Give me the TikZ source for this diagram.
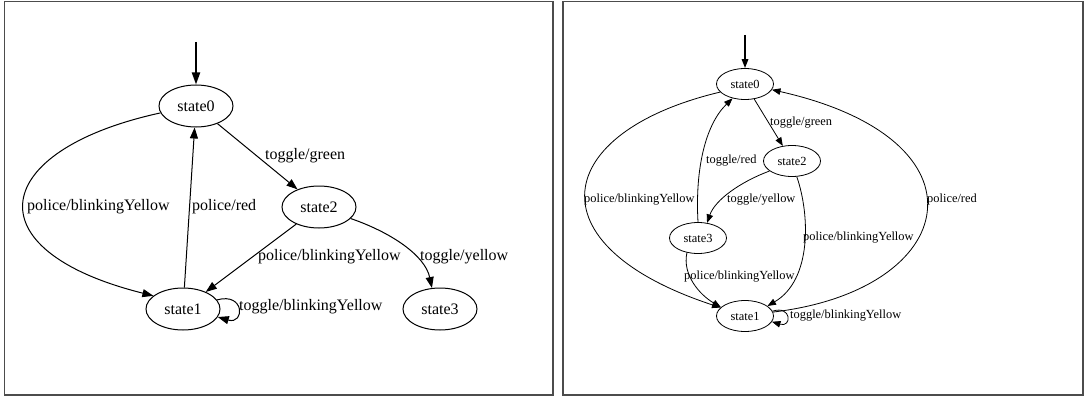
\documentclass[tikz,border=0pt]{standalone}
\usepackage{fontspec}
\setmainfont{Liberation Serif}
\usetikzlibrary{shapes.geometric,arrows.meta}

\tikzset{
  frame/.style={draw=black!70, line width=1.5pt},
  bigstate/.style={ellipse, draw, line width=1pt, inner sep=0pt,
    minimum width=74pt, minimum height=42pt,
    font=\fontsize{16}{18}\selectfont},
  smallstate/.style={ellipse, draw, line width=0.8pt, inner sep=0pt,
    minimum width=57pt, minimum height=31pt,
    font=\fontsize{12.4}{14}\selectfont},
  bigedge/.style={line width=1pt, -{Triangle[length=11pt,width=8pt]}},
  smalledge/.style={line width=0.8pt, -{Triangle[length=8.5pt,width=6.5pt]}},
  bigstart/.style={line width=2pt, -{Triangle[length=12pt,width=8pt]}},
  smallstart/.style={line width=1.6pt, -{Triangle[length=9pt,width=6.5pt]}},
  biglabel/.style={anchor=west, inner sep=0pt, font=\fontsize{16}{18}\selectfont},
  smalllabel/.style={anchor=west, inner sep=0pt, font=\fontsize{12.4}{14}\selectfont},
}

\begin{document}
\begin{tikzpicture}[x=1pt, y=-1pt]
\useasboundingbox (0,0) rectangle (1084,396);
\fill[white] (0,0) rectangle (1084,396);

% two framed panels
\draw[frame] (4.5,1.5) rectangle (553,395);
\draw[frame] (563,1.5) rectangle (1083,395);

% ---------- first machine ----------
\node[bigstate] (l0) at (196,106) {state0};
\node[bigstate] (l2) at (319,207) {state2};
\node[bigstate] (l1) at (183,309) {state1};
\node[bigstate] (l3) at (440,309) {state3};
\coordinate (li) at (196,42);

\draw[bigstart] (li) -- (l0.north);
\draw[bigedge] (l0.191) .. controls (-10,150) and (-30,250) .. (l1.156);
\draw[bigedge] (l1) -- (l0);
\draw[bigedge] (l0) -- (l2);
\draw[bigedge] (l2) -- (l1);
\draw[bigedge] (l2.340) .. controls (390,232) and (425,255) .. (l3.111);
\draw[bigedge] (l1.15) .. controls (245,292) and (245,325) .. (l1.-13);

\node[biglabel] (lt1) at (265,156) {toggle/green};
\node[biglabel] (lt2) at (27,207) {police/blinkingYellow};
\node[biglabel] (lt3) at (192,207) {police/red};
\node[biglabel] (lt4) at (258,257) {police/blinkingYellow};
\node[biglabel] (lt5) at (420,257) {toggle/yellow};
\node[biglabel] (lt6) at (239,307) {toggle/blinkingYellow};

% ---------- second machine ----------
\node[smallstate] (r0) at (745,84) {state0};
\node[smallstate] (r2) at (792,161) {state2};
\node[smallstate] (r3) at (698,238) {state3};
\node[smallstate] (r1) at (745,316) {state1};
\coordinate (ri) at (745,35);

\draw[smallstart] (ri) -- (r0.north);
\draw[smalledge] (r0.198) .. controls (552,132) and (530,245) .. (r1.161);
\draw[smalledge] (r3.90) .. controls (695,170) and (705,125) .. (r0.229);
\draw[smalledge] (r0) -- (r2);
\draw[smalledge] (r2.204) .. controls (740,182) and (715,200) .. (r3.59);
\draw[smalledge] (r2.287) .. controls (810,215) and (812,280) .. (r1.24);
\draw[smalledge] (r3.233) .. controls (682,275) and (700,295) .. (r1.160);
\draw[smalledge] (r1.8) .. controls (960,290) and (995,140) .. (r0.348);
\draw[smalledge] (r1.10) .. controls (792,305) and (792,328) .. (r1.-12);

\node[smalllabel] (rt1) at (770,123) {toggle/green};
\node[smalllabel] (rt2) at (706,161) {toggle/red};
\node[smalllabel] (rt3) at (584,200) {police/blinkingYellow};
\node[smalllabel] (rt4) at (727,200) {toggle/yellow};
\node[smalllabel] (rt5) at (927,200) {police/red};
\node[smalllabel] (rt6) at (803,238) {police/blinkingYellow};
\node[smalllabel] (rt7) at (684,277) {police/blinkingYellow};
\node[smalllabel] (rt8) at (790,316) {toggle/blinkingYellow};
\end{tikzpicture}
\end{document}
